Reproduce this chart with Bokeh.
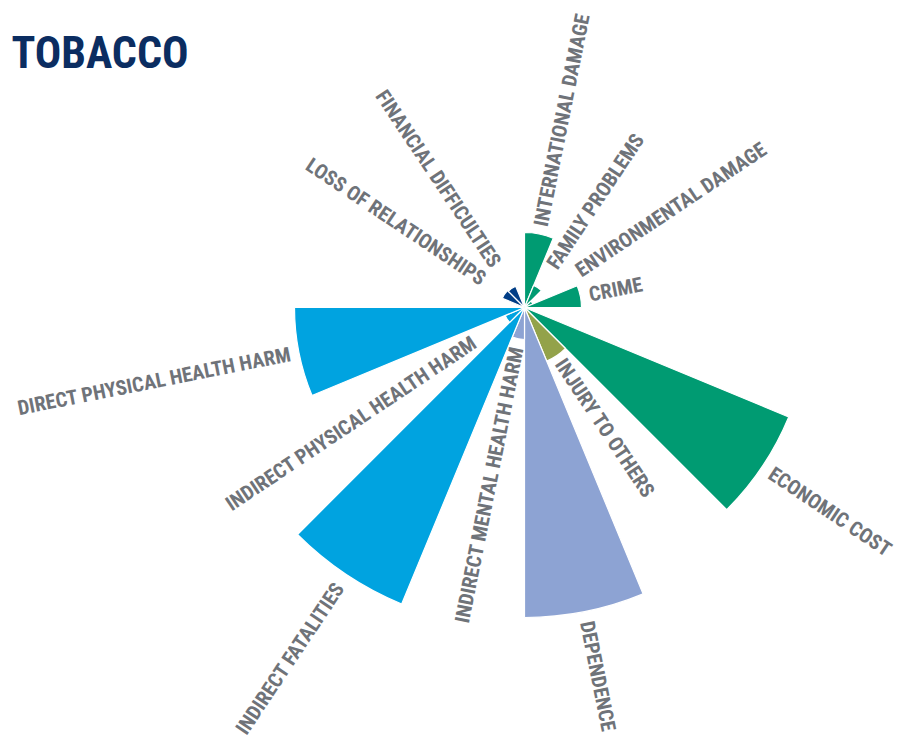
import math
from bokeh.plotting import figure
from bokeh.models import Range1d, ColumnDataSource, Label
from bokeh.core.properties import value
from bokeh.embed import file_html
from bokeh.resources import INLINE

# Categories clockwise from 12 o'clock (16 equal sectors)
categories = [
    "INTERNATIONAL DAMAGE", "FAMILY PROBLEMS", "ENVIRONMENTAL DAMAGE", "CRIME",
    "COMMUNITY", "ECONOMIC COST", "INJURY TO OTHERS", "DEPENDENCE",
    "INDIRECT MENTAL HEALTH HARM", "INDIRECT FATALITIES", "INDIRECT PHYSICAL HEALTH HARM",
    "DIRECT PHYSICAL HEALTH HARM", "DIRECT FATALITIES", "LOSS OF RELATIONSHIPS",
    "FINANCIAL DIFFICULTIES", "DIRECT MENTAL HEALTH HARM",
]
# harm scores (radius units)
scores = [75, 24, 9, 57, 0, 286, 58, 310, 32, 321, 21, 230, 0, 24, 23, 0]
groups = ["others", "others", "others", "others", "others", "others", "injury", "mental",
          "mental", "physical", "physical", "physical", "physical", "loss", "loss", "mental"]

# layout: radius where each label starts
label_radius = [83, 49, 64, 66, 0, 296, 64, 320, 40, 333, 60, 238, 0, 49, 51, 0]

group_colors = {"others": "#009b72", "injury": "#93a24a", "mental": "#8da3d3",
                "physical": "#00a3e0", "loss": "#003d86"}

FONT = "'Roboto Condensed', 'DejaVu Sans Condensed', 'Liberation Sans Narrow', Roboto, sans-serif"

W, H = 900, 741
cx, cy = 524, 307  # centre in figure pixels from top-left
p = figure(width=W, height=H, output_backend="svg", toolbar_location=None,
           x_range=Range1d(-cx, W - cx), y_range=Range1d(-(H - cy), cy),
           min_border=0)
p.axis.visible = False
p.grid.visible = False
p.outline_line_color = None
p.background_fill_color = "white"

n = len(categories)
step = 360.0 / n
wx, wy, wr, ws, we, wc = [], [], [], [], [], []
for i, (s, g) in enumerate(zip(scores, groups)):
    if s <= 0:
        continue
    wx.append(0); wy.append(0); wr.append(s)
    ws.append(math.radians(90 - (i + 1) * step))
    we.append(math.radians(90 - i * step))
    wc.append(group_colors[g])
p.wedge(x="x", y="y", radius="r", start_angle="s", end_angle="e",
        fill_color="c", line_color="white", line_width=1.2,
        source=ColumnDataSource(dict(x=wx, y=wy, r=wr, s=ws, e=we, c=wc)))

lx, ly, lt, la, lal = [], [], [], [], []
for i, (name, s) in enumerate(zip(categories, scores)):
    if s <= 0:
        continue
    th = (i + 0.5) * step
    r = label_radius[i]
    lx.append(r * math.sin(math.radians(th)))
    ly.append(r * math.cos(math.radians(th)))
    lt.append(name)
    if th < 180:
        la.append(math.radians(90 - th)); lal.append("left")
    else:
        la.append(math.radians(270 - th)); lal.append("right")
p.text(x="x", y="y", text="t", angle="a", text_align="al", text_baseline="middle",
       text_font=value(FONT), text_font_style="bold",
       text_font_size="20.5px", text_color="#6f7379",
       source=ColumnDataSource(dict(x=lx, y=ly, t=lt, a=la, al=lal)))

p.add_layout(Label(x=11, y=H - 52, x_units="screen", y_units="screen", text="TOBACCO",
                   text_font=FONT, text_font_style="bold",
                   text_font_size="44px", text_color="#0b2d61", text_baseline="alphabetic"))

open("out.html", "w").write(file_html(p, INLINE))
